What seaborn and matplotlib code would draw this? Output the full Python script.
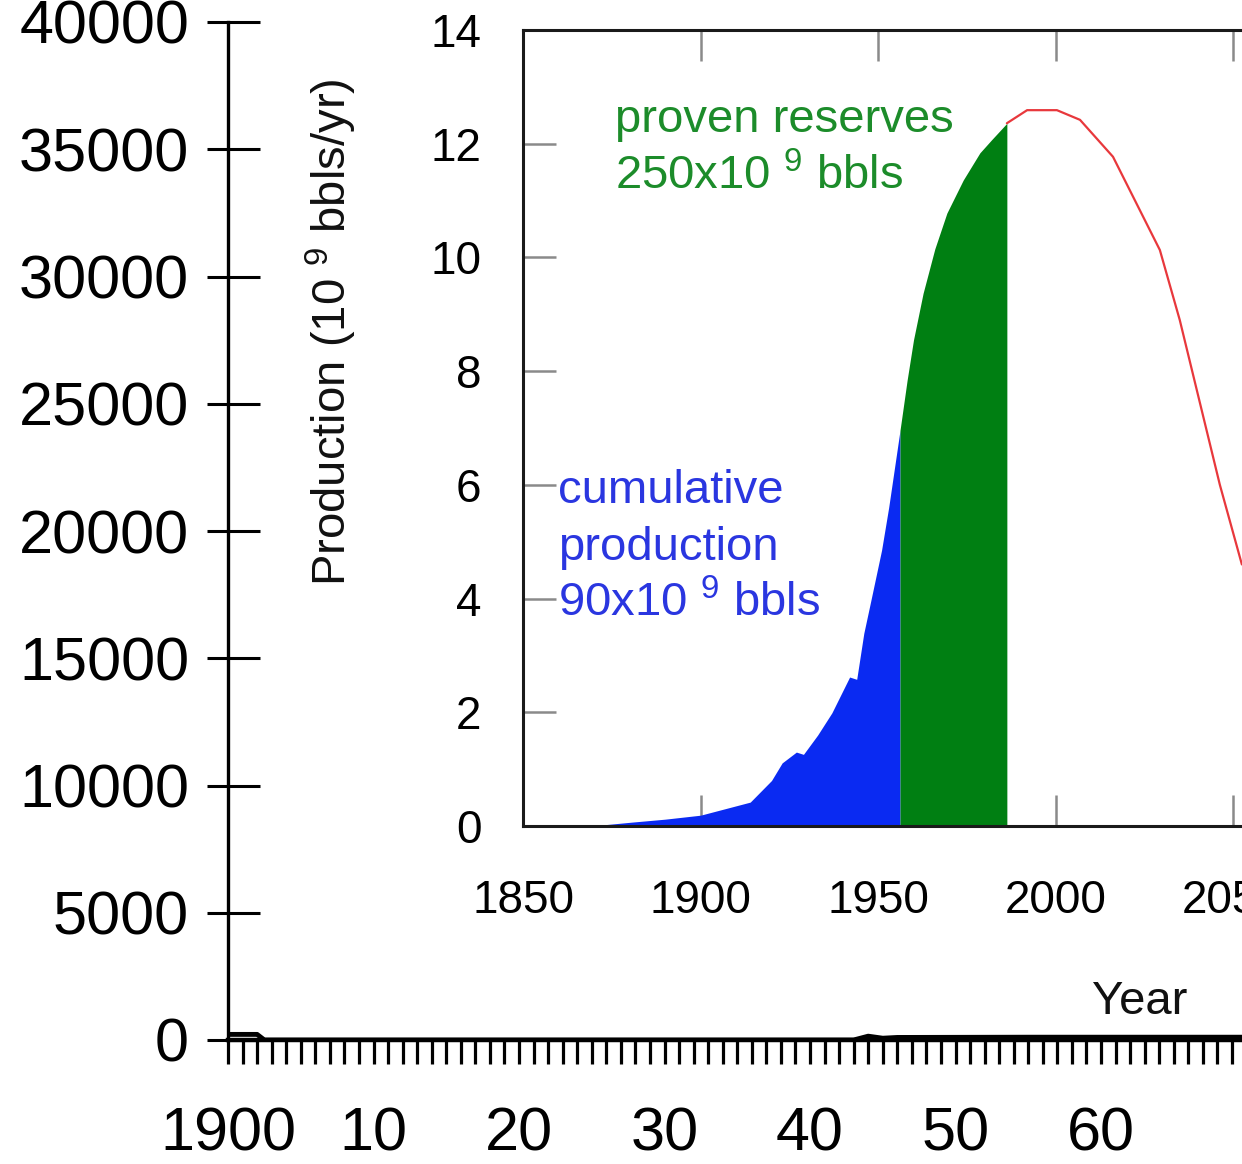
import numpy as np
import pandas as pd
import matplotlib
matplotlib.use("Agg")
import matplotlib.pyplot as plt
from matplotlib.ticker import FixedLocator, MultipleLocator
import seaborn as sns

# ---------------- data ----------------
# outer (background) chart
outer_ytick_values = [0, 5000, 10000, 15000, 20000, 25000, 30000, 35000, 40000]
outer_ytick_labels = ["0", "5000", "10000", "15000", "20000", "25000", "30000", "35000", "40000"]
outer_xtick_years = [1900, 1910, 1920, 1930, 1940, 1950, 1960]
outer_xtick_labels = ["1900", "10", "20", "30", "40", "50", "60"]
outer_years = [1900, 1902, 1902.5, 1943, 1944, 1945, 1946, 1955, 1970]
outer_vals = [220, 220, 0, 0, 150, 70, 100, 110, 110]

# inset chart: world oil production (10^9 bbls/yr)
inner_yticks = [0, 2, 4, 6, 8, 10, 12, 14]
inner_xticks = [1850, 1900, 1950, 2000, 2050]
hist_years = [1850, 1860, 1870, 1881, 1890, 1900, 1914, 1920, 1923, 1927, 1929,
              1933, 1937, 1942, 1944, 1946, 1948, 1951, 1953, 1956.2]
hist_prod = [0, 0, 0.005, 0.07, 0.12, 0.19, 0.42, 0.80, 1.11, 1.30, 1.26,
             1.60, 1.99, 2.62, 2.58, 3.39, 3.97, 4.85, 5.60, 6.96]
reserve_years = [1956.2, 1958.2, 1960, 1962.7, 1966, 1969.4, 1974, 1978.7, 1982, 1986.3]
reserve_prod = [6.96, 7.84, 8.55, 9.37, 10.15, 10.78, 11.36, 11.84, 12.07, 12.36]
future_years = [1986.3, 1992, 2000.4, 2006.9, 2016.2, 2029.4, 2035, 2046.3, 2052.5]
future_prod = [12.36, 12.59, 12.59, 12.42, 11.77, 10.13, 8.9, 6.0, 4.6]

# ---------------- style ----------------
sns.set_style("ticks")
plt.rcParams['font.family'] = ['Liberation Sans', 'DejaVu Sans']
plt.rcParams['text.color'] = 'black'
plt.rcParams['xtick.labelcolor'] = 'black'
plt.rcParams['ytick.labelcolor'] = 'black'
plt.rcParams['mathtext.fontset'] = 'custom'
plt.rcParams['mathtext.rm'] = 'Liberation Sans'
plt.rcParams['mathtext.it'] = 'Liberation Sans:italic'
plt.rcParams['mathtext.bf'] = 'Liberation Sans:bold'
plt.rcParams['mathtext.default'] = 'regular'

W, H = 1242, 1164
fig = plt.figure(figsize=(W / 100, H / 100), dpi=100)
fig.patch.set_facecolor("white")

# ---------------- outer axes ----------------
ax = fig.add_axes([228 / W, (H - 1040) / H, 1014 / W, (1040 - 22) / H])
ax.set_facecolor("none")
outer_df = pd.DataFrame({"year": outer_years, "val": outer_vals})
sns.lineplot(data=outer_df, x="year", y="val", ax=ax, color="black", lw=3.5)
ax.set_xlim(1900, 1900 + 1014 / 14.55)
ax.set_ylim(0, 40000)
for s in ["top", "right"]:
    ax.spines[s].set_visible(False)
ax.spines["left"].set_linewidth(2.4)
ax.spines["bottom"].set_linewidth(3.2)
ax.spines["left"].set_color("black")
ax.spines["bottom"].set_color("black")
ax.yaxis.remove_overlapping_locs = False
ax.yaxis.set_major_locator(FixedLocator(outer_ytick_values))
ax.yaxis.set_minor_locator(FixedLocator(outer_ytick_values))
ax.set_yticklabels(outer_ytick_labels)
ax.xaxis.set_major_locator(FixedLocator(outer_xtick_years))
ax.set_xticklabels(outer_xtick_labels)
ax.xaxis.set_minor_locator(MultipleLocator(1))
# major y ticks point inward, minor ones (same places) outward -> crossing ticks
ax.tick_params(axis="y", which="major", direction="in", length=23, width=2.2,
               labelsize=44, pad=28, color="black")
ax.tick_params(axis="y", which="minor", direction="out", length=15, width=2.2,
               color="black", labelleft=False)
ax.tick_params(axis="x", which="both", direction="out", length=17, width=2.3,
               color="black")
ax.tick_params(axis="x", which="major", labelsize=44, pad=31)
ax.set_xlabel("")
ax.set_ylabel("")

# ---------------- inset axes ----------------
x0, x1 = 1850, 2060
px_per_year = 3.55
ax2 = fig.add_axes([523 / W, (H - 826) / H, (x1 - x0) * px_per_year / W, (826 - 30) / H])
ax2.set_facecolor("none")
ax2.fill_between(hist_years, 0, hist_prod, color="#0a2af2", lw=0)
ax2.fill_between(reserve_years, 0, reserve_prod, color="#007f12", lw=0)
fut_df = pd.DataFrame({"year": future_years, "prod": future_prod})
sns.lineplot(data=fut_df, x="year", y="prod", ax=ax2, color="#e8383c", lw=1.6)
ax2.set_xlim(x0, x1)
ax2.set_ylim(0, 14)
ax2.set_xlabel("")
ax2.set_ylabel("")
for s in ["left", "bottom", "top", "right"]:
    ax2.spines[s].set_linewidth(2.2)
    ax2.spines[s].set_color("#1a1a1a")
ax2.xaxis.set_major_locator(FixedLocator(inner_xticks))
ax2.yaxis.set_major_locator(FixedLocator(inner_yticks))
ax2.set_xticklabels([str(v) for v in inner_xticks])
ax2.set_yticklabels([str(v) for v in inner_yticks])
ax2.tick_params(axis="both", which="major", direction="in", labelsize=33,
                color="#8a8a8a", width=1.8)
ax2.tick_params(axis="y", length=24, pad=30)
ax2.tick_params(axis="x", length=22, pad=38, top=True)

# annotations
ax2.text(1875.8, 12.2, "proven reserves", color="#1c8c2a", fontsize=34, va="baseline")
ax2.text(1875.8, 11.19, r"250x10 $^{9}$ bbls", color="#1c8c2a", fontsize=34, va="baseline")
ax2.text(1859.9, 5.68, "cumulative", color="#2a36e0", fontsize=34, va="baseline")
ax2.text(1859.9, 4.68, "production", color="#2a36e0", fontsize=34, va="baseline")
ax2.text(1859.9, 3.68, r"90x10 $^{9}$ bbls", color="#2a36e0", fontsize=34, va="baseline")

fig.text(331 / W, (H - 332) / H, r"Production (10 $^{9}$ bbls/yr)", rotation=90,
         fontsize=34, ha="center", va="center", color="#111111")
fig.text(1140 / W, (H - 1002) / H, "Year", fontsize=34, ha="center", va="center",
         color="#111111")

fig.savefig("out.png", dpi=100)
